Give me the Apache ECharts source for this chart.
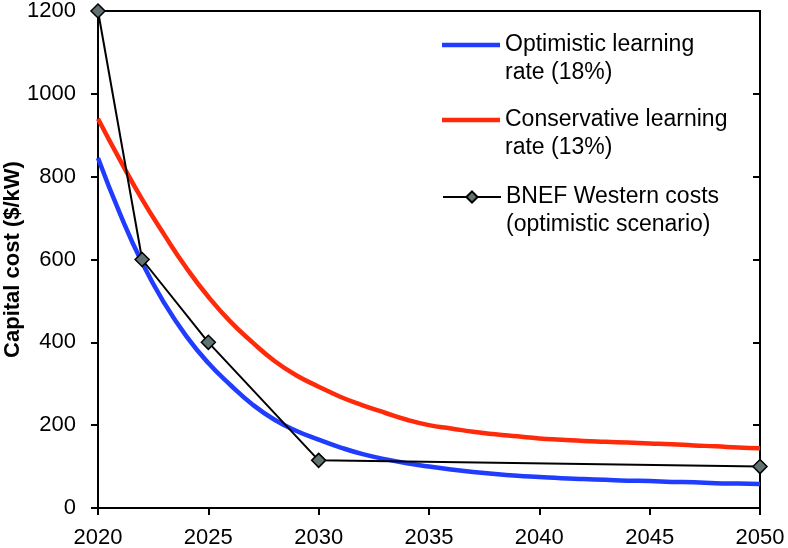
<!DOCTYPE html>
<html>
<head>
<meta charset="utf-8">
<script src="https://cdn.jsdelivr.net/npm/echarts@6/dist/echarts.min.js"></script>
<style>
html,body{margin:0;padding:0;background:#fff;}
#chart{width:788px;height:548px;}
</style>
</head>
<body>
<div id="chart"></div>
<script>
// ---- data ----
const years = [2020,2021,2022,2023,2024,2025,2026,2027,2028,2029,2030,2031,2032,2033,2034,2035,2036,2037,2038,2039,2040,2041,2042,2043,2044,2045,2046,2047,2048,2049,2050];
const optimistic = [845,710,592,495,415,350,297,250,213,186,165,146,130,118,108,100,93,87,82,78,75,72,70,68,66,65,63,62,60,59,58];
const conservative = [940,840,745,660,580,510,450,400,355,320,293,268,248,230,213,200,192,184,178,173,168,165,162,160,158,156,154,151,149,146,144];
const bnefYears = [2020,2022,2025,2030,2050];
const bnefValues = [1200,600,400,115,100];
const seriesNames = ['Optimistic learning\nrate (18%)','Conservative learning\nrate (13%)','BNEF Western costs\n(optimistic scenario)'];
const yTicks = {min:0,max:1200,interval:200};
const xTicks = {min:2020,max:2050,interval:5};

const zip = (xs, ys) => xs.map((x,i)=>[x, ys[i]]);
const font = 'Liberation Sans, Arial, Helvetica, sans-serif';

const chart = echarts.init(document.getElementById('chart'), null, {renderer:'canvas'});
const legendBase = {
  orient:'vertical', left:442, padding:0, itemWidth:58, itemHeight:14, itemGap:0,
  formatter: n => '\n' + n,
  textStyle:{fontFamily:font, fontSize:23, color:'#000', lineHeight:28}
};
chart.setOption({
  animation:false,
  backgroundColor:'#fff',
  grid:{left:98, right:28, top:11, bottom:40, outerBoundsMode:'none', containLabel:false,
        show:true, borderColor:'#000', borderWidth:2, backgroundColor:'transparent'},
  legend:[
    Object.assign({}, legendBase, {top:3, itemHeight:4.5, data:[{name:seriesNames[0], icon:'rect'}]}),
    Object.assign({}, legendBase, {top:78, itemHeight:4.5, data:[{name:seriesNames[1], icon:'rect'}]}),
    Object.assign({}, legendBase, {top:155, data:[seriesNames[2]]})
  ],
  xAxis:{
    type:'value', min:xTicks.min, max:xTicks.max, interval:xTicks.interval,
    axisLine:{lineStyle:{color:'#000', width:2}},
    axisTick:{show:true, inside:false, length:7, lineStyle:{color:'#000', width:2}},
    axisLabel:{fontFamily:font, fontSize:22, color:'#000', margin:19, formatter: v => String(v)},
    splitLine:{show:false}
  },
  yAxis:[{
    type:'value', min:yTicks.min, max:yTicks.max, interval:yTicks.interval,
    name:'Capital cost ($/kW)', nameLocation:'middle', nameGap:74, nameMoveOverlap:false,
    nameTextStyle:{fontFamily:font, fontSize:22, fontWeight:'bold', color:'#000'},
    axisLine:{show:true, lineStyle:{color:'#000', width:2}},
    axisTick:{show:true, inside:false, length:7, lineStyle:{color:'#000', width:2}},
    axisLabel:{fontFamily:font, fontSize:22, color:'#000', margin:22, formatter: v => String(v)},
    splitLine:{show:false}
  },{
    type:'value', position:'right', min:yTicks.min, max:yTicks.max, interval:yTicks.interval,
    axisLine:{show:true, lineStyle:{color:'#000', width:2}},
    axisTick:{show:true, inside:true, length:7, lineStyle:{color:'#000', width:2}},
    axisLabel:{show:false},
    splitLine:{show:false}
  }],
  series:[
    {name:seriesNames[0], type:'line', data:zip(years, optimistic), smooth:true, showSymbol:false, symbol:'none',
     lineStyle:{color:'#1f3cff', width:4.5}, itemStyle:{color:'#1f3cff'}},
    {name:seriesNames[1], type:'line', data:zip(years, conservative), smooth:true, showSymbol:false, symbol:'none',
     lineStyle:{color:'#ff2a0a', width:4.5}, itemStyle:{color:'#ff2a0a'}},
    {name:seriesNames[2], type:'line', data:zip(bnefYears, bnefValues), symbol:'diamond', symbolSize:14,
     lineStyle:{color:'#000', width:2}, itemStyle:{color:'#617272', borderColor:'#000', borderWidth:1.5}, z:5}
  ]
});
</script>
</body>
</html>
